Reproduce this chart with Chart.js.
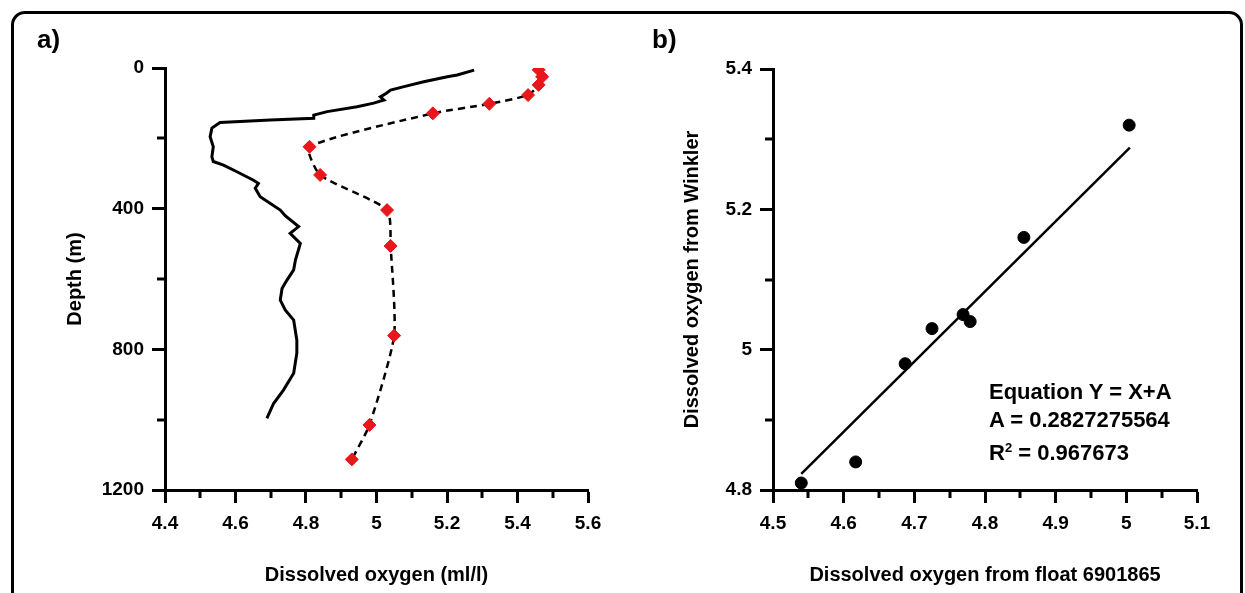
<!DOCTYPE html>
<html>
<head>
<meta charset="utf-8">
<script src="https://cdn.jsdelivr.net/npm/chart.js@4.4.1/dist/chart.umd.min.js"></script>
<style>
    body { margin: 0; background: #fff; }
    #wrap { position: relative; width: 1245px; height: 593px; overflow: hidden; background: #fff; }
    #frame { position: absolute; left: 11px; top: 11px; width: 1226px; height: 620px; border: 3px solid #000; border-radius: 14px; }
    canvas { position: absolute; top: 0; }
    .lbl { position: absolute; font-family: 'Liberation Sans', Arial, sans-serif; font-weight: bold; color: #000; white-space: nowrap; }
</style>
</head>
<body>
<div id="wrap">
    <div id="frame"></div>
    <canvas id="chart-a" width="620" height="593" style="left:0"></canvas>
    <canvas id="chart-b" width="625" height="593" style="left:620px"></canvas>
    <div class="lbl" style="left:37px; top:24px; font-size:26px">a)</div>
    <div class="lbl" style="left:652px; top:24px; font-size:26px">b)</div>
    <div class="lbl" style="left:989px; top:378px; font-size:22px; line-height:28px">
        Equation Y = X+A<br>A = 0.2827275564<br>R<sup style="font-size:13px">2</sup> = 0.967673
    </div>
</div>
<script>
// Профиль кислорода с датчика (сплошная линия)
const profileOxygen = [5.277, 5.229, 5.201, 5.134, 5.078, 5.040, 5.028, 5.011, 5.021, 4.992, 4.945, 4.860, 4.822, 4.822, 4.699, 4.556, 4.533, 4.528, 4.537, 4.533, 4.537, 4.566, 4.604, 4.651, 4.665, 4.656, 4.670, 4.727, 4.741, 4.779, 4.755, 4.784, 4.770, 4.765, 4.746, 4.732, 4.727, 4.741, 4.765, 4.774, 4.774, 4.765, 4.736, 4.708, 4.689];
const profileDepth = [6, 20, 25, 39, 53, 63, 72, 82, 91, 100, 110, 124, 134, 143, 148, 155, 171, 195, 224, 252, 266, 276, 295, 319, 328, 342, 366, 404, 420, 451, 470, 499, 546, 574, 603, 627, 660, 688, 717, 774, 811, 868, 916, 954, 996];

// Пробы (красные ромбы)
const bottleOxygen = [5.46, 5.47, 5.46, 5.43, 5.32, 5.16, 4.81, 4.84, 5.03, 5.04, 5.05, 4.98, 4.93];
const bottleDepth = [5, 25, 48, 77, 102, 129, 224, 304, 404, 506, 761, 1015, 1113];

// Сравнение: поплавок против Винклера
const floatOxygen = [4.54, 4.617, 4.687, 4.725, 4.769, 4.779, 4.855, 5.004];
const winklerOxygen = [4.81, 4.84, 4.98, 5.03, 5.05, 5.04, 5.16, 5.32];
const fitX = [4.54, 5.005];
const fitY = [4.823, 5.288];

// Промежуточные (короткие) деления осей
const minorA = { x: [4.5, 4.7, 4.9, 5.1, 5.3, 5.5], y: [200, 600, 1000] };
const minorB = { x: [4.55, 4.65, 4.75, 4.85, 4.95, 5.05], y: [4.9, 5.1, 5.3] };

const FONT = 'Liberation Sans, Arial, sans-serif';

function toPoints(xs, ys) {
    return xs.map((x, i) => ({ x: x, y: ys[i] }));
}

// Рисуем короткие деления
const minorTicks = {
    id: 'minorTicks',
    afterDraw(chart, args, opts) {
        const ctx = chart.ctx;
        const area = chart.chartArea;
        ctx.save();
        ctx.strokeStyle = '#000';
        ctx.lineWidth = 3;
        ctx.beginPath();
        (opts.x || []).forEach(v => {
            const px = Math.round(chart.scales.x.getPixelForValue(v));
            ctx.moveTo(px, area.bottom);
            ctx.lineTo(px, area.bottom + 8);
        });
        (opts.y || []).forEach(v => {
            const py = Math.round(chart.scales.y.getPixelForValue(v));
            ctx.moveTo(area.left, py);
            ctx.lineTo(area.left - 8, py);
        });
        ctx.stroke();
        ctx.restore();
    }
};

function axis(min, max, step, title, titlePad, size, extra) {
    const horiz = extra.position === 'bottom';
    return Object.assign({
        type: 'linear',
        min: min,
        max: max,
        afterFit: s => { if (s.isHorizontal()) s.height = size; else s.width = size; },
        ticks: {
            stepSize: step,
            color: '#000',
            padding: horiz ? 9 : 8,
            font: { family: FONT, weight: 'bold', size: 19 },
            callback: v => String(+v.toFixed(2))
        },
        grid: { drawOnChartArea: false, drawTicks: true, tickLength: 13, tickWidth: 3, tickColor: '#000' },
        border: { display: true, width: 3, color: '#000' },
        title: { display: true, text: title, color: '#000', padding: titlePad, font: { family: FONT, weight: 'bold', size: 20 } }
    }, extra);
}

Chart.defaults.animation = false;

// a) профиль по глубине
new Chart(document.getElementById('chart-a').getContext('2d'), {
    type: 'scatter',
    data: {
        datasets: [{
            data: toPoints(profileOxygen, profileDepth),
            showLine: true,
            borderColor: '#000',
            borderWidth: 3,
            pointRadius: 0,
            tension: 0
        }, {
            data: toPoints(bottleOxygen, bottleDepth),
            showLine: true,
            borderColor: '#000',
            borderWidth: 2.5,
            borderDash: [7, 5],
            tension: 0.2,
            pointStyle: 'rectRot',
            pointRadius: 6.5,
            pointBackgroundColor: '#e8171b',
            pointBorderColor: '#e8171b',
            pointBorderWidth: 1
        }]
    },
    options: {
        responsive: false,
        layout: { padding: { left: 0, top: 68, right: 32, bottom: 0 } },
        plugins: { legend: { display: false }, tooltip: { enabled: false }, minorTicks: minorA },
        scales: {
            x: axis(4.4, 5.6, 0.2, 'Dissolved oxygen (ml/l)', { bottom: 6 }, 103, { position: 'bottom' }),
            y: axis(0, 1200, 400, 'Depth (m)', { top: 63 }, 165, { position: 'left', reverse: true })
        }
    },
    plugins: [minorTicks]
});

// b) поплавок против Винклера
new Chart(document.getElementById('chart-b').getContext('2d'), {
    type: 'scatter',
    data: {
        datasets: [{
            data: toPoints(floatOxygen, winklerOxygen),
            pointRadius: 6,
            pointBackgroundColor: '#000',
            pointBorderColor: '#000'
        }, {
            data: toPoints(fitX, fitY),
            showLine: true,
            borderColor: '#000',
            borderWidth: 2.5,
            pointRadius: 0
        }]
    },
    options: {
        responsive: false,
        layout: { padding: { left: 0, top: 69, right: 48, bottom: 0 } },
        plugins: { legend: { display: false }, tooltip: { enabled: false }, minorTicks: minorB },
        scales: {
            x: axis(4.5, 5.1, 0.1, 'Dissolved oxygen from float 6901865', { bottom: 6 }, 103, { position: 'bottom' }),
            y: axis(4.8, 5.4, 0.2, 'Dissolved oxygen from Winkler', { top: 60 }, 153, { position: 'left' })
        }
    },
    plugins: [minorTicks]
});
</script>
</body>
</html>
